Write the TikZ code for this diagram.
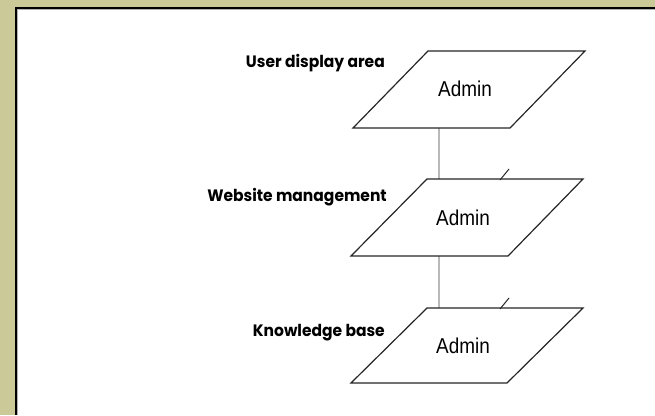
\documentclass[tikz,border=0pt]{standalone}
\usepackage{fontspec}
\setmainfont{Liberation Sans}
\newfontfamily\adminfont[FakeStretch=0.88]{Liberation Sans}
\newfontfamily\lblfont[FakeStretch=0.94]{Poppins}
\definecolor{bgolive}{RGB}{204,201,153}
\definecolor{linkgray}{RGB}{185,185,185}
\tikzset{
  para/.style={draw=black!85, line width=1.2pt, fill=white, line join=miter},
  link/.style={draw=linkgray, line width=2.2pt},
  tick/.style={draw=black!85, line width=1pt},
  admin/.style={inner sep=0pt, font=\adminfont\fontsize{21.5}{24}\selectfont, anchor=base},
  lbl/.style={inner sep=0pt, font=\lblfont\bfseries\fontsize{16.5}{19}\selectfont, anchor=base east}
}
\begin{document}
\begin{tikzpicture}[x=1pt,y=-1pt]
\useasboundingbox (0,0) rectangle (655,415);
\fill[bgolive] (0,0) rectangle (655,415);
\fill[white] (16,8) rectangle (655,415);
\draw[black, line width=2pt] (16,415) -- (16,8) -- (655,8);
\draw[gray!60, line width=1pt] (17.5,415) -- (17.5,9.5) -- (655,9.5);

% connector points
\coordinate (p1b) at (439,128);
\coordinate (p2t) at (439,179);
\coordinate (p2b) at (439,256);
\coordinate (p3t) at (439,308);
\coordinate (t1a) at (500,180);
\coordinate (t1b) at (509,169);
\coordinate (t2a) at (500,309);
\coordinate (t2b) at (509,298);

\draw[link] (p1b) -- (p2t);
\draw[link] (p2b) -- (p3t);

\draw[para] (353,128) -- (428,51) -- (585,51) -- (510,128) -- cycle;
\draw[para] (351,256) -- (427,179) -- (583,179) -- (508,256) -- cycle;
\draw[para] (351,383) -- (427,308) -- (583,308) -- (507,383) -- cycle;

\draw[tick] (t1a) -- (t1b);
\draw[tick] (t2a) -- (t2b);

\node[admin] (a1) at (465,96) {Admin};
\node[admin] (a2) at (463,225) {Admin};
\node[admin] (a3) at (463,353) {Admin};

\node[lbl] (l1) at (385,67) {User display area};
\node[lbl] (l2) at (387,201) {Website management};
\node[lbl] (l3) at (385,336) {Knowledge base};
\end{tikzpicture}
\end{document}
